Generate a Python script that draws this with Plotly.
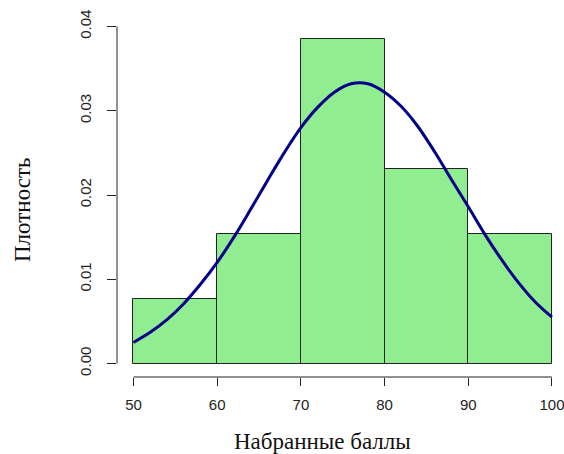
import plotly.graph_objects as go

# Histogram bins (left edges, right edges) and densities
bin_left = [50, 60, 70, 80, 90]
bin_right = [60, 70, 80, 90, 100]
density = [0.0077, 0.0154, 0.0385, 0.0231, 0.0154]

# Density curve
curve_x = [50, 52, 54, 56, 58, 60, 62, 64, 66, 68, 70, 72, 74, 76, 78, 80,
           82, 84, 86, 88, 90, 92, 94, 96, 98, 100]
curve_y = [0.0025, 0.0037, 0.0052, 0.0071, 0.0094, 0.0120, 0.0150, 0.0183,
           0.0217, 0.0250, 0.0280, 0.0304, 0.0322, 0.0332, 0.0332,
           0.0322, 0.0305, 0.0281, 0.0251, 0.0218, 0.0186, 0.0153, 0.0123,
           0.0096, 0.0073, 0.0055]

x_ticks = [50, 60, 70, 80, 90, 100]
y_ticks = [0.00, 0.01, 0.02, 0.03, 0.04]
y_tick_labels = ["0.00", "0.01", "0.02", "0.03", "0.04"]

centers = [(a + b) / 2 for a, b in zip(bin_left, bin_right)]
widths = [b - a for a, b in zip(bin_left, bin_right)]

fig = go.Figure()
fig.add_trace(go.Bar(
    x=centers, y=density, width=widths,
    marker=dict(color="#90EE90", line=dict(color="#222222", width=1)),
    hoverinfo="skip",
))
fig.add_trace(go.Scatter(
    x=curve_x, y=curve_y, mode="lines",
    line=dict(color="#00008B", width=3, shape="spline"),
    hoverinfo="skip",
))

tick_font = dict(family="Liberation Sans, Arial", size=15, color="#222222")
title_font = dict(family="Liberation Serif, Times New Roman", size=23, color="#111111")

fig.update_layout(
    width=564, height=454,
    margin=dict(l=117, r=4, t=13, b=77),
    paper_bgcolor="white", plot_bgcolor="white",
    showlegend=False,
    bargap=0,
    xaxis=dict(
        range=[48.03, 100.96], showgrid=False, zeroline=False, showline=False,
        tickmode="array", tickvals=x_ticks, ticktext=[str(v) for v in x_ticks],
        ticks="outside", ticklen=8, tickcolor="#222222", tickwidth=1,
        tickfont=tick_font, ticklabelstandoff=6, ticklabeloverflow="allow",
        automargin=False,
    ),
    yaxis=dict(
        range=[-0.0016, 0.0416], showgrid=False, zeroline=False, showline=False,
        tickmode="array", tickvals=y_ticks, ticktext=y_tick_labels,
        ticks="outside", ticklen=9, tickcolor="#222222", tickwidth=1,
        tickfont=tick_font, tickangle=-90, ticklabelstandoff=10,
        automargin=False,
    ),
    shapes=[
        dict(type="line", xref="x", yref="paper", x0=50, x1=100, y0=0, y1=0,
             line=dict(color="#222222", width=1)),
        dict(type="line", xref="paper", yref="y", x0=0, x1=0, y0=0, y1=0.04,
             line=dict(color="#222222", width=1)),
    ],
    annotations=[
        dict(text="Набранные баллы", xref="paper", yref="paper",
             x=(322 - 117) / (560 - 117), y=-(441 - 377) / (377 - 13),
             xanchor="center", yanchor="middle", showarrow=False,
             font=title_font),
        dict(text="Плотность", xref="paper", yref="paper",
             x=-(117 - 22) / (560 - 117), y=(377 - 210) / (377 - 13),
             xanchor="center", yanchor="middle", showarrow=False, textangle=-90,
             font=title_font),
    ],
)

fig.write_html("out.html", config={"displayModeBar": False},
               post_script="document.body.style.margin='0';")
